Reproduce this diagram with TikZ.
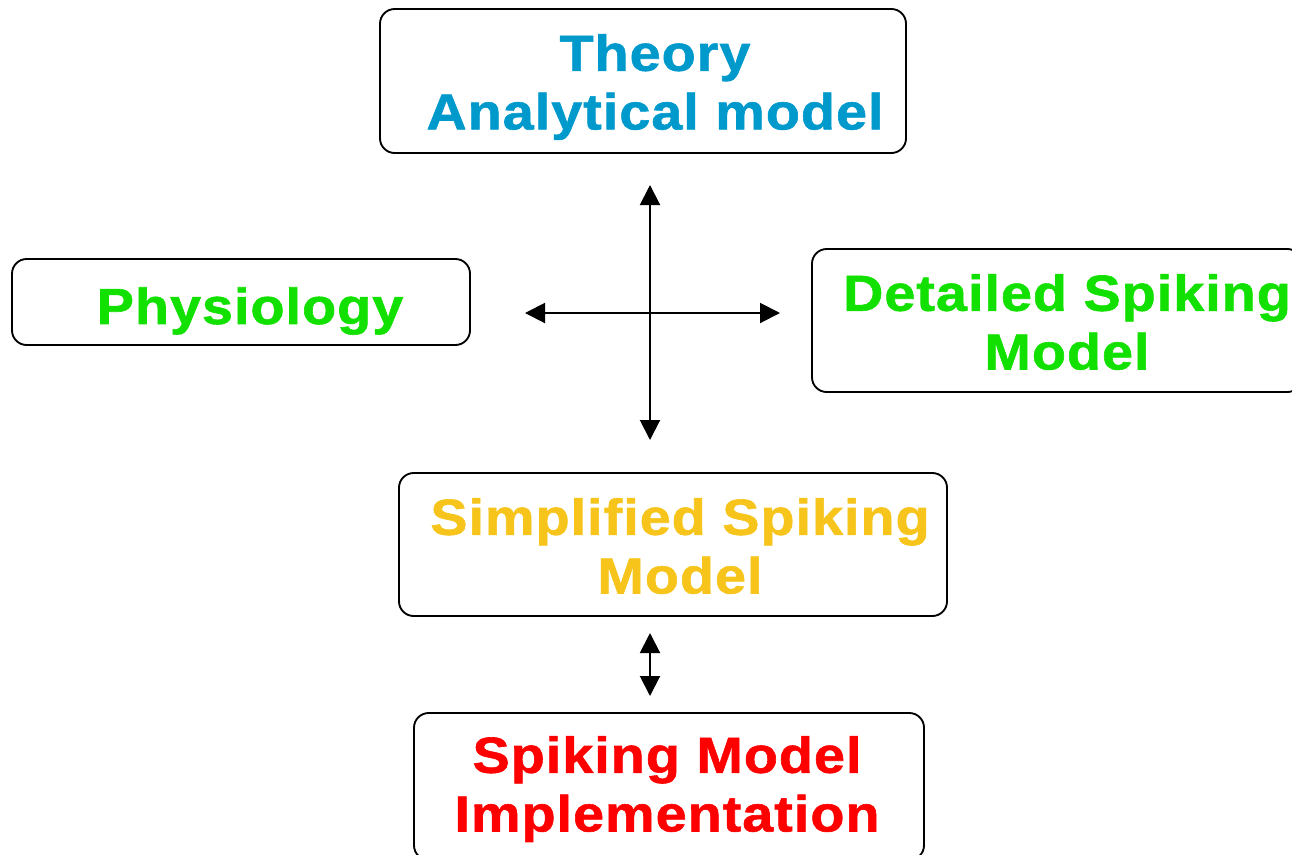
\documentclass[tikz,border=0pt]{standalone}
\usepackage{fontspec}
\setmainfont{Liberation Sans}[LetterSpace=2, FakeStretch=1.1, BoldFeatures={FakeBold=1.2}]
\usetikzlibrary{arrows.meta}
\definecolor{theoryblue}{RGB}{0,153,204}
\definecolor{physgreen}{RGB}{18,224,0}
\definecolor{simpgold}{RGB}{246,196,26}
\definecolor{implred}{RGB}{255,0,0}

\begin{document}
\begin{tikzpicture}[x=0.75pt, y=-0.75pt,
  box/.style={draw, rounded corners=11pt, line width=1.4pt, inner sep=0pt},
  txt/.style={align=center, font=\fontsize{38}{44}\selectfont\bfseries},
  dbl/.style={{Triangle[length=15pt,width=15pt]}-{Triangle[length=15pt,width=15pt]},
  line width=1.5pt}]
  \clip (0,0) rectangle (1292,854);
  \node[box, minimum width=394.5pt, minimum height=108pt] (theory) at (643,81) {};
  \node[box, minimum width=343.5pt, minimum height=64.5pt] (physio) at (241,302) {};
  \node[box, minimum width=367.5pt, minimum height=107.25pt] (detail) at (1057,320.5) {};
  \node[box, minimum width=411pt, minimum height=107.25pt] (simple) at (673,544.5) {};
  \node[box, minimum width=382.5pt, minimum height=110.25pt] (impl) at (669,786.5) {};
  \node[txt, text=theoryblue] (theorytxt) at (655,87) {Theory\\Analytical model};
  \node[txt, text=physgreen] (physiotxt) at (250,311) {Physiology};
  \node[txt, text=physgreen] (detailtxt) at (1067,322) {Detailed Spiking\\Model};
  \node[txt, text=simpgold] (simpletxt) at (680,546) {Simplified Spiking\\Model};
  \node[txt, text=implred] (impltxt) at (667,789) {Spiking Model\\Implementation};
  \coordinate (up) at (650,185);
  \coordinate (down) at (650,440);
  \coordinate (left) at (525,313);
  \coordinate (right) at (780,313);
  \coordinate (lowup) at (650,633);
  \coordinate (lowdown) at (650,696);
  \draw[dbl] (up) -- (down);
  \draw[dbl] (left) -- (right);
  \draw[dbl] (lowup) -- (lowdown);
\end{tikzpicture}
\end{document}
